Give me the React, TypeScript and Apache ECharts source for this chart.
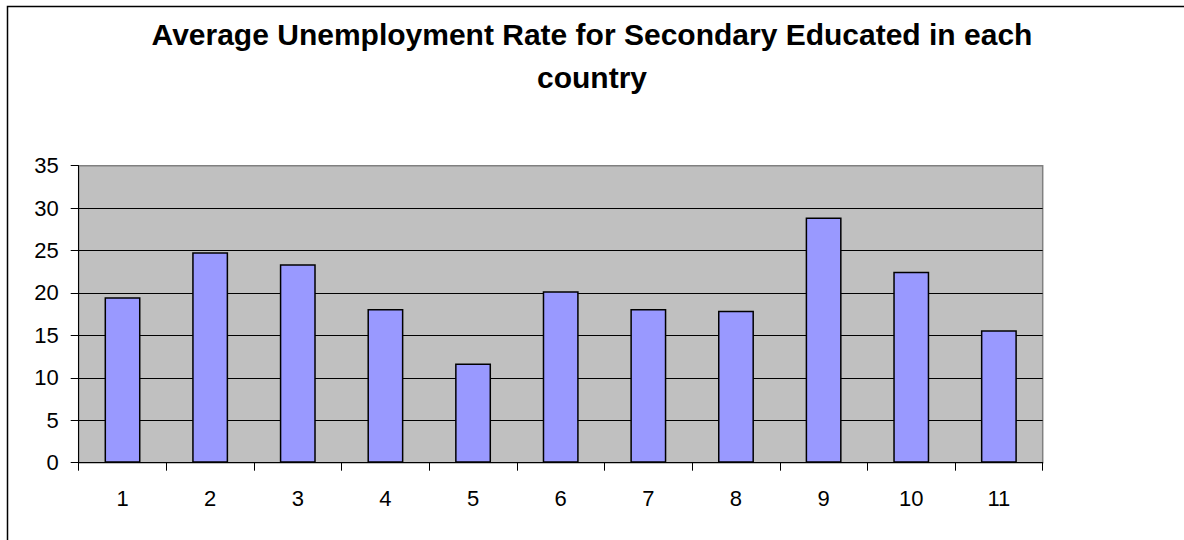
import React, { useEffect, useRef } from "react";
import * as echarts from "echarts";

const titleText = "Average Unemployment Rate for Secondary Educated in each\ncountry";
const categories = ["1", "2", "3", "4", "5", "6", "7", "8", "9", "10", "11"];
const values = [19.5, 24.8, 23.4, 18.1, 11.7, 20.2, 18.1, 17.9, 28.9, 22.5, 15.6];
const yMin = 0;
const yMax = 35;
const yInterval = 5;

export default function App() {
  const ref = useRef<HTMLDivElement>(null);
  useEffect(() => {
    if (!ref.current) return;
    const chart = echarts.init(ref.current, null, { renderer: "svg" });
    chart.setOption({
      animation: false,
      backgroundColor: "#ffffff",
      title: {
        text: titleText,
        left: "center",
        top: 13,
        padding: 0,
        textStyle: {
          fontFamily: "Liberation Sans, Arial, sans-serif",
          fontSize: 30,
          fontWeight: "bold",
          color: "#000000",
          lineHeight: 43,
        },
      },
      graphic: [
        {
          type: "rect",
          shape: { x: 7.5, y: 6.5, width: 1300, height: 700 },
          style: { fill: "none", stroke: "#000000", lineWidth: 1.5 },
          silent: true,
          z: 100,
        },
      ],
      grid: {
        left: 78.7,
        right: 141.3,
        top: 165.7,
        bottom: 77.3,
        show: true,
        backgroundColor: "#c0c0c0",
        borderColor: "#808080",
        borderWidth: 1.5,
      },
      xAxis: {
        type: "category",
        data: categories,
        axisLine: { show: true, lineStyle: { color: "#000000", width: 1 } },
        axisTick: { show: true, alignWithLabel: false, length: 8, lineStyle: { color: "#000000" } },
        axisLabel: {
          margin: 25,
          fontFamily: "Liberation Sans, Arial, sans-serif",
          fontSize: 22,
          color: "#000000",
        },
        splitLine: { show: false },
      },
      yAxis: {
        type: "value",
        min: yMin,
        max: yMax,
        interval: yInterval,
        axisLine: { show: true, lineStyle: { color: "#000000", width: 1 } },
        axisTick: { show: true, length: 8, lineStyle: { color: "#000000" } },
        axisLabel: {
          margin: 20,
          fontFamily: "Liberation Sans, Arial, sans-serif",
          fontSize: 22,
          color: "#000000",
        },
        splitLine: {
          show: true,
          lineStyle: {
            color: ["#000000", "#000000", "#000000", "#000000", "#000000", "#000000", "#000000", "#808080"],
            width: 1,
          },
        },
      },
      series: [
        {
          type: "bar",
          data: values,
          barWidth: "41%",
          itemStyle: {
            color: "#9999ff",
            borderColor: "#000000",
            borderWidth: 1.5,
          },
        },
      ],
    });
    return () => chart.dispose();
  }, []);
  return (
    <div
      ref={ref}
      style={{ position: "absolute", left: 0, top: 0, width: 1184, height: 540 }}
    />
  );
}
